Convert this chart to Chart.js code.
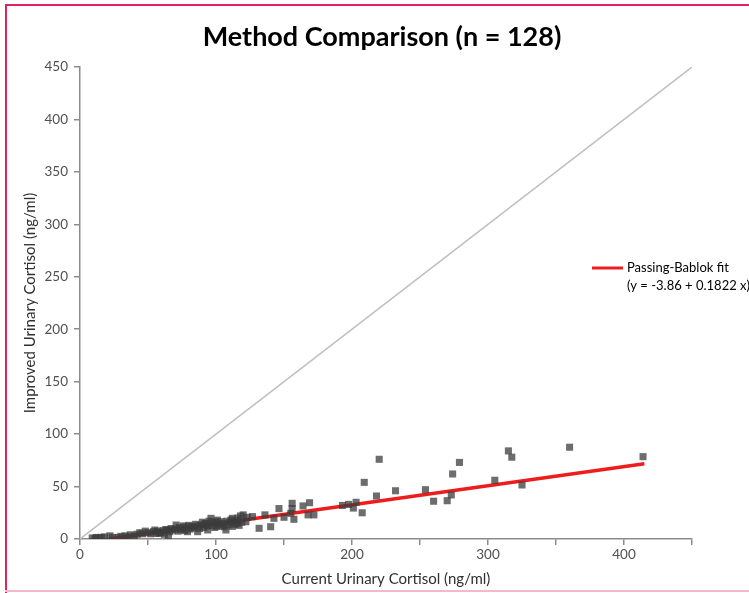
<!DOCTYPE html>
<html>
<head>
<meta charset="utf-8">
<script src="https://cdn.jsdelivr.net/npm/chart.js@4/dist/chart.umd.min.js"></script>
<style>
  html, body { margin: 0; padding: 0; background: #fff; }
  #wrap { position: relative; width: 749px; height: 593px; overflow: hidden; }
  #c { position: absolute; left: 0; top: 0; }
  .bl { position: absolute; left: 5px; top: 4px; width: 2px; height: 589px; background: #e0245e; }
  .bt { position: absolute; left: 5px; top: 4px; width: 744px; height: 2px; background: #e0245e; }
  .bb { position: absolute; left: 5px; top: 590px; width: 744px; height: 2px; background: #f5b8c8; }
</style>
</head>
<body>
<div id="wrap">
  <canvas id="c" width="749" height="593"></canvas>
  <div class="bl"></div><div class="bt"></div><div class="bb"></div>
</div>
<script>
// ---- data ----
const chartTitle = "Method Comparison (n = 128)";
const xAxisTitle = "Current Urinary Cortisol (ng/ml)";
const yAxisTitle = "Improved Urinary Cortisol (ng/ml)";
const legendLine1 = "Passing-Bablok fit";
const legendLine2 = "(y = -3.86 + 0.1822 x)";

// Current (x) and Improved (y) cortisol, ng/ml
const currentValues = [
  9, 11, 12, 14, 16, 18, 22, 24, 28, 30, 33, 35, 37, 40, 42, 44, 46, 48, 50, 52, 54, 55, 58, 60,
  56, 57, 59, 61, 62, 63, 64.6, 65, 66, 67, 68, 70, 70.7, 72, 73, 74, 75.6, 76, 77, 78, 79, 80,
  81, 82, 83, 84, 85, 86.5, 87, 88, 89, 90, 91, 92, 92.7, 93.9, 94, 95, 96.3, 97, 98, 99, 100,
  100.5, 101, 102, 103.6, 104, 105, 106, 107.3, 108, 109, 110, 111, 112, 113, 114, 115, 116, 117, 118, 119,
  112, 115.8, 120, 122, 123, 126.8, 131.7, 136, 140.2, 142.6, 146.3, 150, 155, 156, 156, 157.3, 164, 167.7, 168.8, 172,
  193, 197.5, 201, 203, 207.5, 209, 218, 220, 232, 254, 260, 270, 273, 274, 279, 305, 315, 317.5, 325, 360, 414
];
const improvedValues = [
  1, 0.5, 1.5, 1, 1.5, 2, 3, 1.5, 1.5, 2.5, 3, 2, 4, 3, 4.5, 6, 5, 7.5, 6, 5, 7, 8.5, 5.5, 6.5,
  5.4, 7.5, 6, 8, 4.5, 9, 8.6, 2.2, 7, 10, 8.5, 9.5, 13.3, 7.5, 11, 9, 10.2, 12.5, 8, 11.5, 7, 13,
  9.5, 12, 10.5, 11.7, 14, 7, 12.5, 10, 13.3, 16, 11, 14.5, 15, 8.6, 12.5, 17, 19.7, 13, 15.5, 11, 16.5,
  12, 18, 14, 16.5, 12.5, 15, 11.7, 8.6, 17, 13.5, 15.5, 18.1, 12, 16, 14, 17.5, 20, 13, 22, 16,
  19.7, 15, 23, 16.5, 20.7, 21.3, 10.2, 23, 11.7, 19.7, 29, 20.7, 24.5, 34, 29, 18.8, 31.5, 23, 34.6, 23,
  32, 33, 29.5, 35, 25, 54, 41, 76, 46, 47, 36, 36.5, 42, 62, 73, 56, 84, 78, 51.5, 87.5, 78.5
];

// Passing-Bablok fit line end points and identity line
const fitX = [21.2, 415];
const fitY = [0, 71.75];
const identityX = [0, 450];
const identityY = [0, 450];

const axisMin = 0, axisMax = 450, axisStep = 50, xLabelStep = 100;

// ---- build chart ----
const pts = currentValues.map((x, i) => ({ x: x, y: improvedValues[i] }));
const fitPts = fitX.map((x, i) => ({ x: x, y: fitY[i] }));
const idPts = identityX.map((x, i) => ({ x: x, y: identityY[i] }));

const FONT = "Lato, 'Open Sans', sans-serif";
const axisColor = '#8c8c8c';
const tickColor = '#505050';

const extras = {
  id: 'extras',
  afterDraw(chart) {
    const ctx = chart.ctx;
    ctx.save();
    // title
    ctx.fillStyle = '#000';
    ctx.font = "bold 27px " + FONT;
    ctx.textAlign = 'center';
    ctx.textBaseline = 'middle';
    ctx.fillText(chartTitle, 382, 37);
    // legend
    ctx.strokeStyle = '#ee1c1c';
    ctx.lineWidth = 3;
    ctx.beginPath();
    ctx.moveTo(592, 268);
    ctx.lineTo(623, 268);
    ctx.stroke();
    ctx.fillStyle = '#000';
    ctx.font = "13px " + FONT;
    ctx.textAlign = 'left';
    ctx.fillText(legendLine1, 627, 268);
    ctx.fillText(legendLine2, 627, 286);
    ctx.restore();
  }
};

new Chart(document.getElementById('c'), {
  type: 'scatter',
  data: {
    datasets: [
      {
        label: 'Samples',
        data: pts,
        pointStyle: 'rect',
        pointRadius: 5,
        pointHoverRadius: 5,
        backgroundColor: 'rgba(60,60,60,0.75)',
        borderWidth: 0,
        order: 0
      },
      {
        label: legendLine1,
        type: 'line',
        data: fitPts,
        borderColor: '#ee1c1c',
        borderWidth: 3.5,
        pointRadius: 0,
        fill: false,
        order: 1
      },
      {
        label: 'Identity',
        type: 'line',
        data: idPts,
        borderColor: '#bfbfbf',
        borderWidth: 1.5,
        pointRadius: 0,
        fill: false,
        order: 2
      }
    ]
  },
  options: {
    responsive: false,
    animation: false,
    layout: { padding: { left: 8, right: 57, top: 67, bottom: 0 } },
    plugins: {
      legend: { display: false },
      title: { display: false },
      tooltip: { enabled: false }
    },
    scales: {
      x: {
        type: 'linear',
        min: axisMin, max: axisMax,
        afterFit(s) { s.height = 54; },
        grid: { drawOnChartArea: false, drawTicks: true, tickLength: 6, color: axisColor, lineWidth: 1.5 },
        border: { color: axisColor, width: 1.5 },
        ticks: {
          stepSize: axisStep,
          padding: 2,
          color: tickColor,
          font: { family: FONT, size: 13.5 },
          maxRotation: 0,
          autoSkip: false,
          callback: (v) => (v % xLabelStep === 0 ? String(v) : '')
        },
        title: {
          display: true, text: xAxisTitle, color: '#303030',
          font: { family: FONT, size: 15 },
          padding: { top: 0, bottom: 5 }
        }
      },
      y: {
        type: 'linear',
        min: axisMin, max: axisMax,
        afterFit(s) { s.width = 72; },
        grid: { drawOnChartArea: false, drawTicks: true, tickLength: 6, color: axisColor, lineWidth: 1.5 },
        border: { color: axisColor, width: 1.5 },
        ticks: {
          stepSize: axisStep,
          padding: 6,
          color: tickColor,
          font: { family: FONT, size: 13.5 },
          autoSkip: false
        },
        title: {
          display: true, text: yAxisTitle, color: '#303030',
          font: { family: FONT, size: 15 },
          padding: { top: 13, bottom: 0 }
        }
      }
    }
  },
  plugins: [extras]
});
</script>
</body>
</html>
